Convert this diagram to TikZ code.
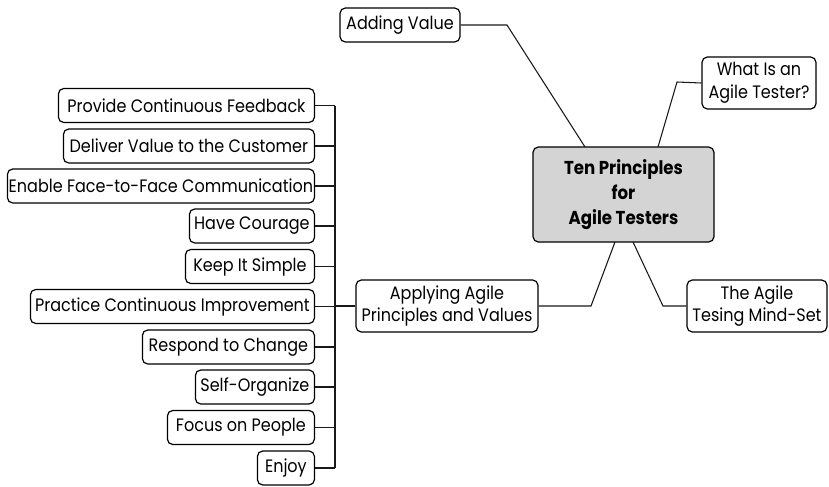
\documentclass[tikz,border=0pt]{standalone}
\usepackage{fontspec}
\setmainfont{Poppins}[FakeStretch=0.89]
\usetikzlibrary{calc}
\tikzset{
  box/.style={draw=black, line width=0.9pt, rounded corners=4pt, fill=white, inner sep=0pt, align=center, font=\fontsize{13.5}{17}\selectfont},
  leaf/.style={box, minimum height=25.5pt, anchor=east},
  link/.style={draw=black!90, line width=0.8pt},
}
\begin{document}
\begin{tikzpicture}[x=0.75pt, y=-0.75pt]
\useasboundingbox (0,0) rectangle (829,486);
\node[box, fill=black!17, minimum width=135.75pt, minimum height=71.25pt, font=\fontsize{14}{19}\selectfont\bfseries] (central) at (623.5,194.5) {Ten Principles\\for\\Agile Testers};
\node[box, minimum width=90pt, minimum height=25.5pt] (adding) at (400,25) {Adding Value};
\node[box, minimum width=85.5pt, minimum height=39pt] (what) at (759,83) {What Is an\\Agile Tester?};
\node[box, minimum width=136.5pt, minimum height=39pt] (apply) at (447,306) {Applying Agile\\Principles and Values};
\node[box, minimum width=105pt, minimum height=39pt] (mind) at (757,306) {The Agile\\Tesing Mind-Set};

\coordinate (bA) at (507,25);
\coordinate (tA) at (585,147);
\coordinate (bW) at (677,82);
\coordinate (tW) at (658,147);
\coordinate (bP) at (591,306);
\coordinate (tP) at (615,242);
\coordinate (bM) at (663,306);
\coordinate (tM) at (633,242);
\draw[link] (adding.east) -- (bA) -- (tA);
\draw[link] (what.west) -- (bW) -- (tW);
\draw[link] (apply.east) -- (bP) -- (tP);
\draw[link] (tM) -- (bM) -- (mind.west);

\node[leaf, minimum width=192pt] (l1) at (315,105.5) {Provide Continuous Feedback};
\node[leaf, minimum width=188.25pt] (l2) at (315,146) {Deliver Value to the Customer};
\node[leaf, minimum width=230.25pt] (l3) at (315,186) {Enable Face-to-Face Communication};
\node[leaf, minimum width=93.75pt] (l4) at (315,226) {Have Courage};
\node[leaf, minimum width=96.75pt] (l5) at (315,266.5) {Keep It Simple};
\node[leaf, minimum width=213pt] (l6) at (315,306.5) {Practice Continuous Improvement};
\node[leaf, minimum width=129pt] (l7) at (315,347) {Respond to Change};
\node[leaf, minimum width=89.25pt] (l8) at (315,387) {Self-Organize};
\node[leaf, minimum width=110.25pt] (l9) at (315,427.5) {Focus on People};
\node[leaf, minimum width=42.75pt] (l10) at (315,468) {Enjoy};

\coordinate (spine) at (335,0);
\draw[link] (l1.east -| spine) -- (l10.east -| spine);
\foreach \i in {1,...,10} { \draw[link] (l\i.east) -- (l\i.east -| spine); }
\draw[link] (apply.west) -- (apply.west -| spine);
\end{tikzpicture}
\end{document}
